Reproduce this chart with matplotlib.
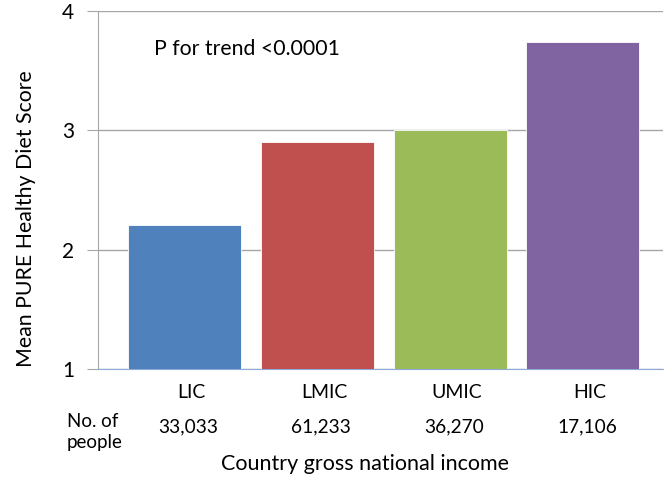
import matplotlib.pyplot as plt
import matplotlib.transforms as mtransforms

plt.rcParams['font.family'] = ['Lato', 'DejaVu Sans']

categories = ['LIC', 'LMIC', 'UMIC', 'HIC']
scores = [2.21, 2.90, 3.00, 3.74]
people = ['33,033', '61,233', '36,270', '17,106']
colors = ['#4F81BD', '#C0504D', '#9BBB59', '#8064A2']

fig = plt.figure(figsize=(6.64, 4.79), dpi=100)
ax = fig.add_axes([0.1476, 0.2296, 0.8504, 0.7474])

x = range(len(categories))
ax.bar(x, [s - 1 for s in scores], bottom=1, width=0.85, color=colors,
       edgecolor='white', linewidth=0.6, zorder=3)

ax.set_ylim(1, 4)
ax.set_xlim(-0.65, 3.6)
ax.set_yticks([1, 2, 3, 4])
ax.yaxis.grid(True, color='#A6A6A6', linewidth=1.0, zorder=0)

for side in ['top', 'right']:
    ax.spines[side].set_visible(False)
ax.spines['left'].set_color('#A6A6A6')
ax.spines['bottom'].set_color('#8EAADB')
ax.tick_params(axis='y', length=8, color='#A6A6A6', labelsize=15, pad=9)
ax.tick_params(axis='x', length=0, labelsize=14, pad=11)
ax.set_xticks(list(x))
ax.set_xticklabels(categories)
# category labels sit slightly right of bar centres in the original
shift = mtransforms.ScaledTranslation(0.07, 0, fig.dpi_scale_trans)
for lab in ax.get_xticklabels():
    lab.set_transform(lab.get_transform() + shift)

ax.set_ylabel('Mean PURE Healthy Diet Score', fontsize=15.3)
ax.yaxis.set_label_coords(-0.11, 0.419)
ax.set_xlabel('Country gross national income', fontsize=15.5)
ax.xaxis.label.set_va('center')
ax.xaxis.set_label_coords(0.4726, -0.265)

trans = mtransforms.blended_transform_factory(ax.transData, fig.transFigure)
for i, n in enumerate(people):
    ax.text(i + 0.03, 1 - 427 / 479, n, transform=trans, ha='center', va='center',
            fontsize=13.8)
fig.text(67 / 664, 1 - 432 / 479, 'No. of\npeople', ha='left', va='center',
         fontsize=13.5, linespacing=1.35)

ax.text(154 / 664, 1 - 49 / 479, 'P for trend <0.0001', transform=fig.transFigure,
        ha='left', va='center', fontsize=15.3)

fig.savefig('out.png', dpi=100)
